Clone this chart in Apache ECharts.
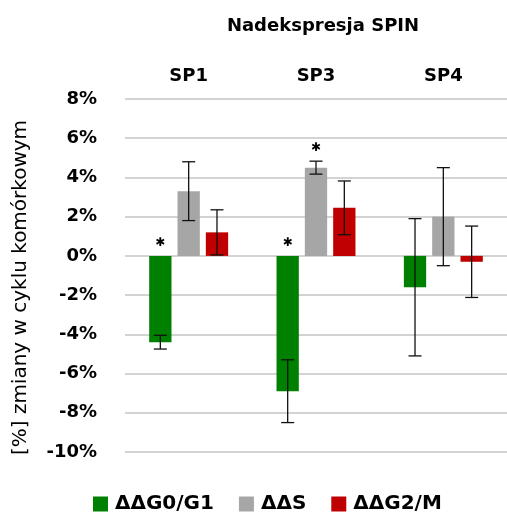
<!DOCTYPE html>
<html>
<head>
<meta charset="utf-8">
<script src="https://cdn.jsdelivr.net/npm/echarts@6/dist/echarts.min.js"></script>
<style>
  html, body { margin: 0; padding: 0; background: #fff; }
  #chart { width: 507px; height: 522px; }
</style>
</head>
<body>
<div id="chart"></div>
<script>
// Cell-cycle changes after SPIN overexpression (percent points)
const categories = ['SP1', 'SP3', 'SP4'];
const seriesNames = ['ΔΔG0/G1', 'ΔΔS', 'ΔΔG2/M'];

const g0g1Values = [-4.4, -6.9, -1.6];
const g0g1Errors = [0.35, 1.6, 3.5];
const g0g1Significant = [true, true, false];

const sValues = [3.3, 4.5, 2.0];
const sErrors = [1.5, 0.33, 2.5];
const sSignificant = [false, true, false];

const g2mValues = [1.2, 2.45, -0.3];
const g2mErrors = [1.15, 1.37, 1.82];
const g2mSignificant = [false, false, false];

const yTicks = { min: -10, max: 8, interval: 2 };

const colors = ['#008000', '#a6a6a6', '#c00000'];
const FONT = 'DejaVu Sans';

const CATEGORY_GAP = 0.38;
const BAR_GAP = 0.27;
const SERIES_COUNT = 3;

// horizontal offset of a bar slot from the category centre
function slotOffset(api, slot) {
  const band = api.size([1, 0])[0];
  const barW = band * (1 - CATEGORY_GAP) / (SERIES_COUNT + (SERIES_COUNT - 1) * BAR_GAP);
  return (slot - (SERIES_COUNT - 1) / 2) * barW * (1 + BAR_GAP);
}

function errorSeries(values, errors, slot) {
  return {
    type: 'custom',
    z: 5,
    silent: true,
    data: values.map((v, i) => [i, v - errors[i], v + errors[i]]),
    renderItem(params, api) {
      const dx = slotOffset(api, slot);
      const lo = api.coord([api.value(0), api.value(1)]);
      const hi = api.coord([api.value(0), api.value(2)]);
      const x = lo[0] + dx;
      const cap = 6.5;
      const style = { stroke: '#111', lineWidth: 1.3 };
      return {
        type: 'group',
        children: [
          { type: 'line', shape: { x1: x, y1: lo[1], x2: x, y2: hi[1] }, style },
          { type: 'line', shape: { x1: x - cap, y1: lo[1], x2: x + cap, y2: lo[1] }, style },
          { type: 'line', shape: { x1: x - cap, y1: hi[1], x2: x + cap, y2: hi[1] }, style }
        ]
      };
    }
  };
}

function markerSeries(values, errors, flags, slot) {
  const data = [];
  values.forEach((v, i) => {
    if (flags[i]) data.push([i, Math.max(0, v + errors[i])]);
  });
  return {
    type: 'custom',
    z: 6,
    silent: true,
    data,
    renderItem(params, api) {
      const dx = slotOffset(api, slot);
      const p = api.coord([api.value(0), api.value(1)]);
      return {
        type: 'text',
        style: {
          x: p[0] + dx,
          y: p[1] - 13,
          text: '✱',
          fill: '#000',
          font: 'bold 12px ' + FONT,
          align: 'center',
          verticalAlign: 'middle'
        }
      };
    }
  };
}

function barSeries(name, values, color) {
  return {
    name,
    type: 'bar',
    data: values,
    barGap: (BAR_GAP * 100) + '%',
    barCategoryGap: (CATEGORY_GAP * 100) + '%',
    itemStyle: { color },
    emphasis: { disabled: true }
  };
}

const chart = echarts.init(document.getElementById('chart'), null, { renderer: 'canvas' });

chart.setOption({
  animation: false,
  color: colors,
  title: {
    text: 'Nadekspresja SPIN',
    left: 318,
    top: 12,
    textAlign: 'center',
    textStyle: { fontFamily: FONT, fontWeight: 'bold', fontSize: 18, color: '#000' }
  },
  legend: {
    data: seriesNames,
    top: 489,
    left: 88,
    icon: 'rect',
    itemWidth: 15,
    itemHeight: 15,
    itemGap: 25,
    textStyle: { fontFamily: FONT, fontWeight: 'bold', fontSize: 20, color: '#000', padding: [0, 0, 0, 2] }
  },
  grid: { left: 125, right: -4, top: 99, bottom: 70 },
  xAxis: {
    type: 'category',
    data: categories,
    position: 'top',
    axisLine: { show: false },
    axisTick: { show: false },
    axisLabel: { fontFamily: FONT, fontWeight: 'bold', fontSize: 18, color: '#000', margin: 14 }
  },
  yAxis: {
    type: 'value',
    min: yTicks.min,
    max: yTicks.max,
    interval: yTicks.interval,
    name: '[%] zmiany w cyklu komórkowym',
    nameLocation: 'middle',
    nameGap: 94,
    nameTextStyle: { fontFamily: FONT, fontSize: 20, color: '#000', padding: [0, 24, 0, 0] },
    axisLine: { show: false },
    axisTick: { show: false },
    splitLine: { lineStyle: { color: '#c4c4c4', width: 1.6 } },
    axisLabel: {
      formatter: '{value}%',
      fontFamily: FONT,
      fontWeight: 'bold',
      fontSize: 18,
      color: '#000',
      margin: 28
    }
  },
  series: [
    barSeries(seriesNames[0], g0g1Values, colors[0]),
    barSeries(seriesNames[1], sValues, colors[1]),
    barSeries(seriesNames[2], g2mValues, colors[2]),
    errorSeries(g0g1Values, g0g1Errors, 0),
    errorSeries(sValues, sErrors, 1),
    errorSeries(g2mValues, g2mErrors, 2),
    markerSeries(g0g1Values, g0g1Errors, g0g1Significant, 0),
    markerSeries(sValues, sErrors, sSignificant, 1),
    markerSeries(g2mValues, g2mErrors, g2mSignificant, 2)
  ]
});
</script>
</body>
</html>
